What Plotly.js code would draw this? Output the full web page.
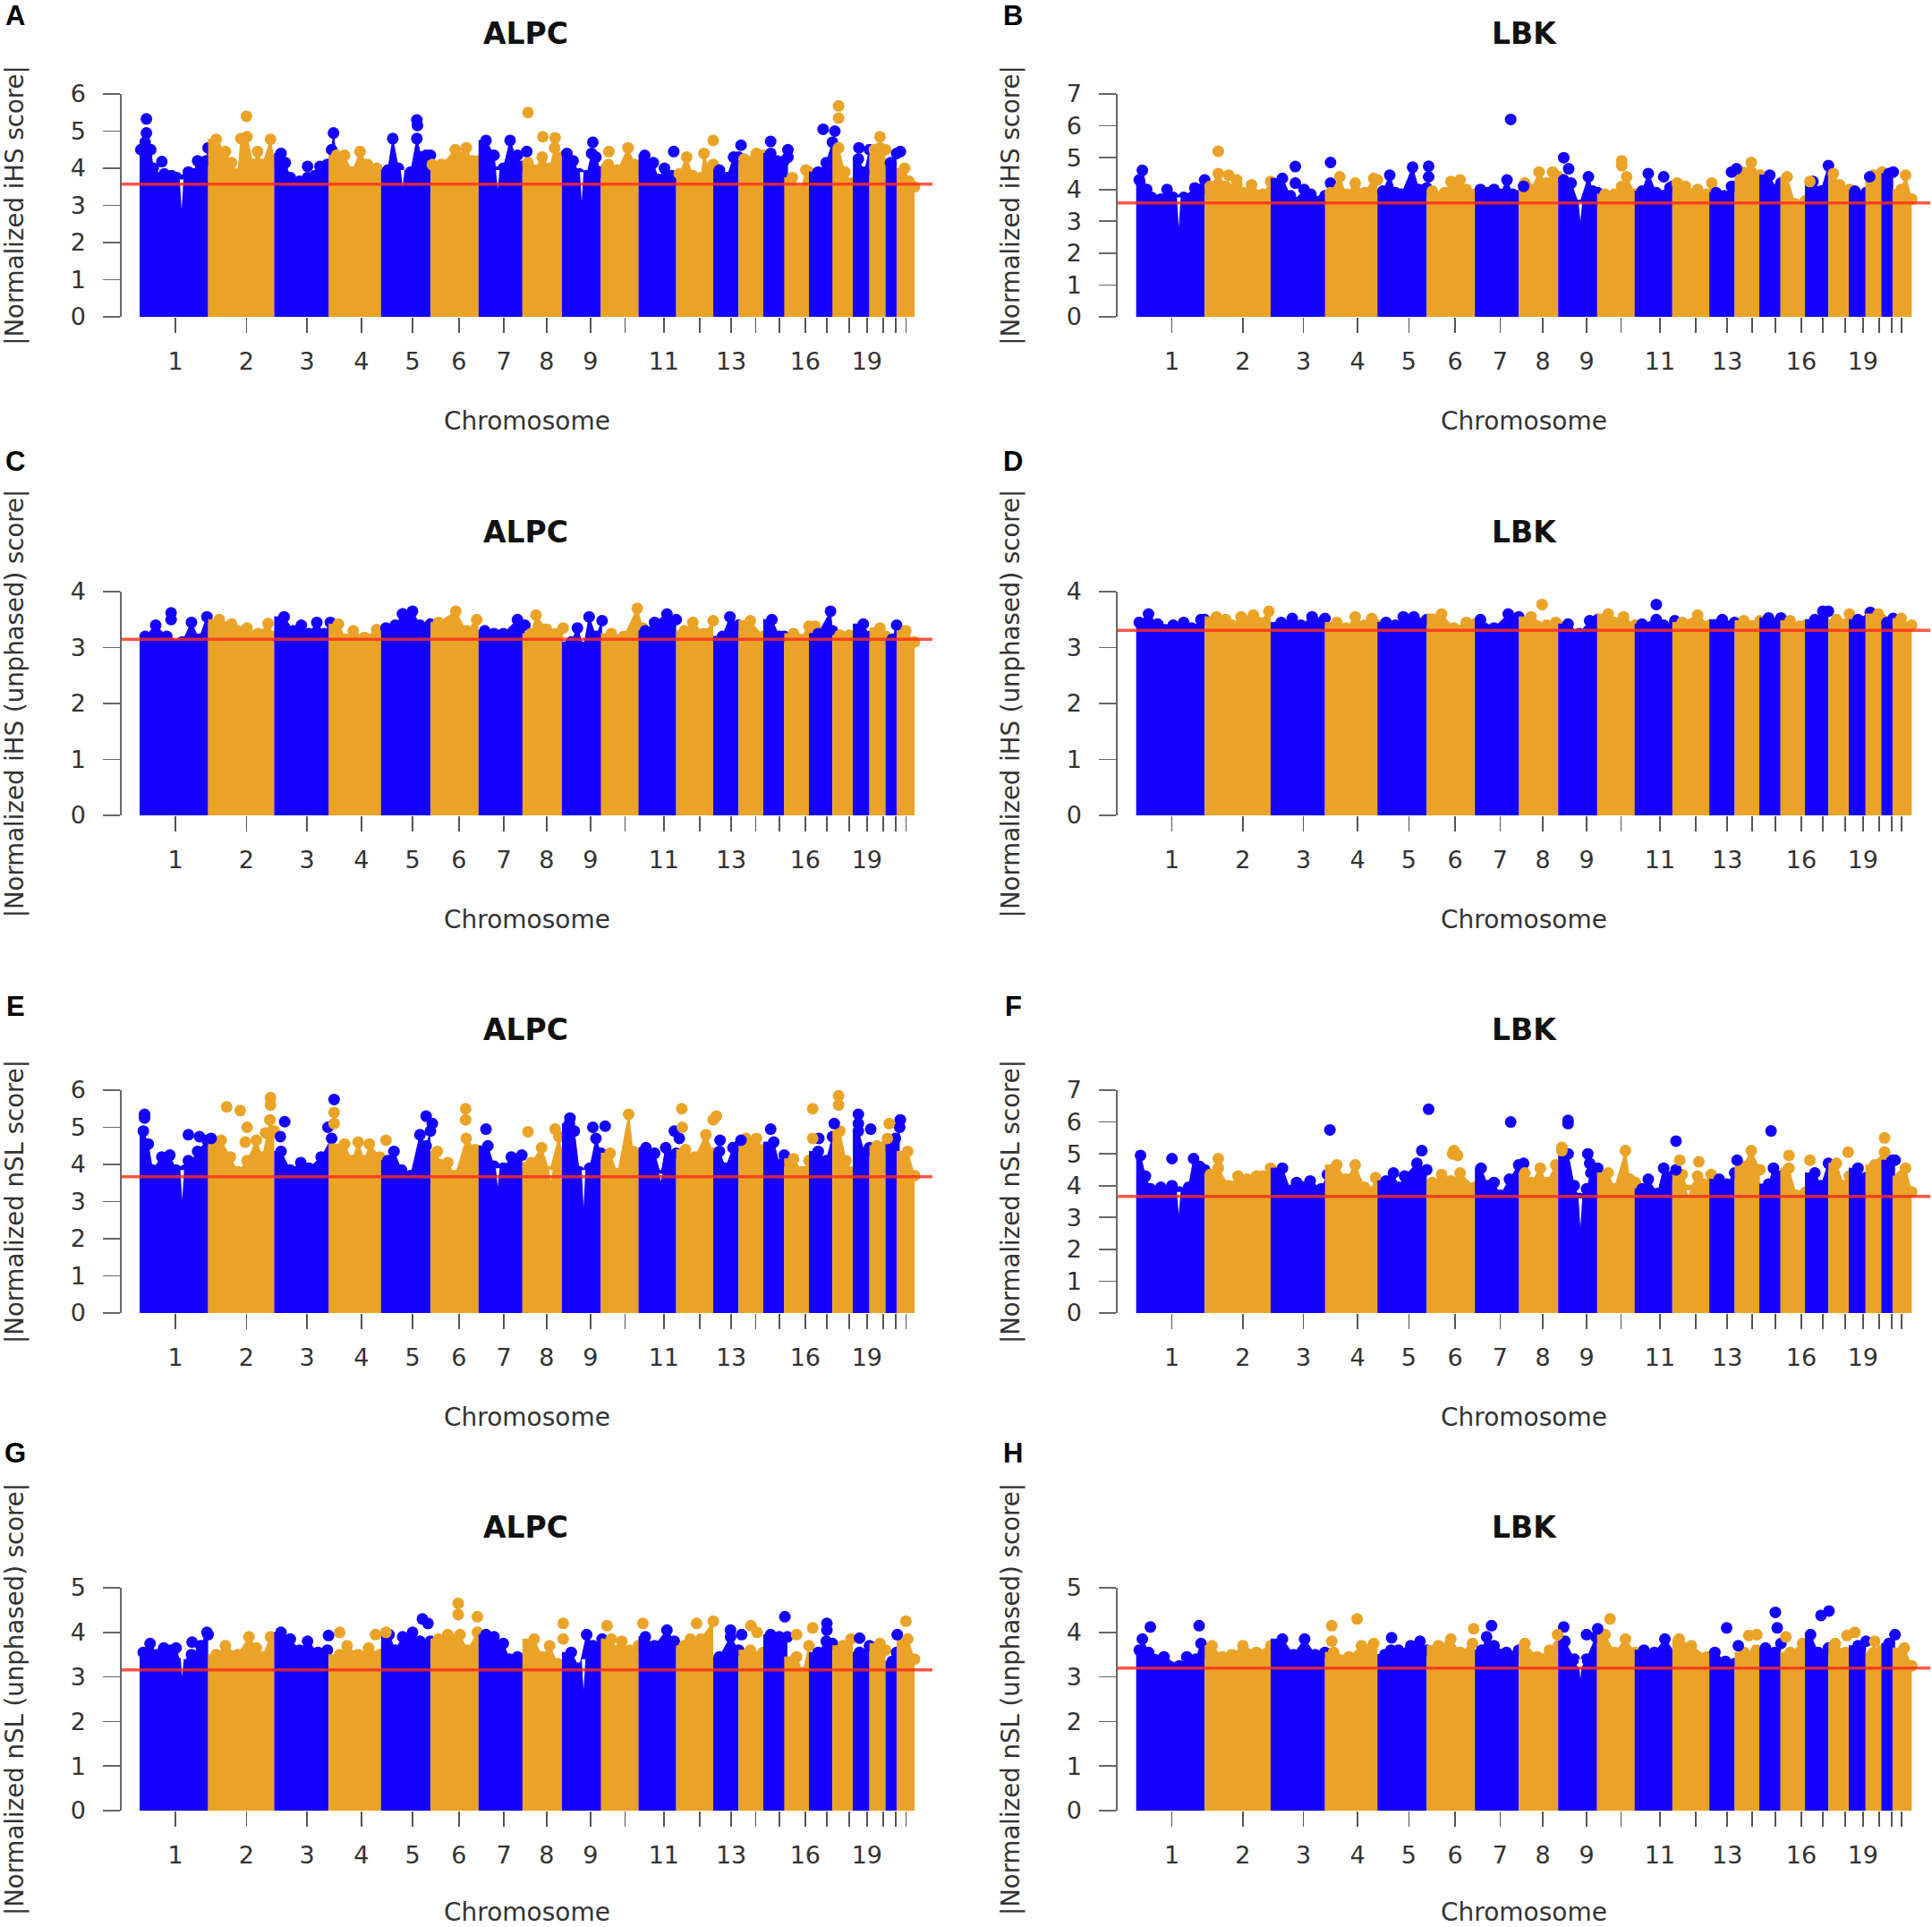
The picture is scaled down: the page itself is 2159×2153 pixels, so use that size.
<!DOCTYPE html>
<html>
<head>
<meta charset="utf-8">
<script src="https://cdn.plot.ly/plotly-3.0.1.min.js"></script>
<style>html,body{margin:0;padding:0;background:#fff}#chart{width:2159px;height:2153px}</style>
</head>
<body>
<div id="chart"></div>
<script>
// Genome position of the chromosome edges and centres
const chromEdges = [0,111,218,306,391,471,549,620,684,747,808,869,929,970,1010,1044,1084,1122,1155,1182,1208,1226,1255];
const chromTicks = [58,173,271,359,442,517,590,659,730,786,849,907,958,998,1036,1078,1113,1149,1178,1204,1225,1241];
const chromLabels = ['1','2','3','4','5','6','7','8','9','','11','','13','','','16','','','19','','',''];

// Ridge of each chromosome as position,score pairs; spots stand above the ridge; dips are position,bottom,top
const ridgeA = [
 [2,4.5,9,4.7,11,4.95,18,4.5,22,4.0,28,3.75,40,3.85,52,3.8,60,3.75,79,3.9,87,3.85,94,4.2,100,3.95,108,4.2,111,4.55],
 [124,4.78,139,4.45,149,4.15,159,3.85,164,4.8,174,4.85,184,4.1,191,4.45,199,4.1,212,4.78,218,4.2],
 [229,4.4,236,4.15,244,3.75,259,3.65,272,3.75,284,3.8,292,4.05,304,4.1,311,4.5,314,4.95,318,4.3],
 [319,4.35,332,4.35,344,3.9,357,4.45,369,4.1,384,4.0],
 [402,3.95,410,4.8,419,4.0,429,3.8,439,3.9,449,4.8,456,4.3,464,4.35,471,4.35],
 [474,4.1,489,4.1,511,4.5,519,4.3,529,4.55,539,4.2,549,4.2],
 [561,4.75,574,4.35,577,3.9,589,4.0,600,4.75,609,4.3,620,4.05],
 [629,4.15,639,3.95,652,4.3,664,4.0,672,4.55,684,4.3],
 [692,4.4,702,4.2,712,3.85,724,3.8,732,4.4,739,4.3,747,3.9],
 [759,4.1,774,3.95,791,4.55,802,4.1,808,3.9],
 [818,4.35,832,4.15,840,3.7,850,4.0,862,3.8,869,3.7],
 [874,3.85,886,4.3,896,3.8,909,3.75,914,4.4,924,3.85,929,4.1],
 [939,3.95,951,3.75,962,4.3,970,4.3],
 [979,4.25,999,4.4,1010,4.35],
 [1022,4.4,1032,4.2,1044,4.2,1050,4.3],
 [1057,3.75,1071,3.4,1079,3.95,1084,3.9],
 [1099,3.9,1112,4.15,1122,4.7,1126,5.0],
 [1132,4.55,1142,3.9,1155,3.6],
 [1164,4.25,1174,3.9,1182,4.5],
 [1190,4.5,1199,4.55,1208,4.5],
 [1216,4.15,1226,4.4],
 [1239,4.0,1246,3.65,1255,3.5]
];
const blueSpotsA = [11,5.33,36,4.18,272,4.05,449,5.3,450,5.15,627,4.45,612,4.35,734,4.7,865,4.45,974,4.62,1022,4.72,1050,4.5,1107,5.05,1165,4.55,1232,4.45];
const orangeSpotsA = [173,5.4,629,5.5,653,4.85,673,4.82,760,4.45,929,4.75,1132,5.35,1132,5.68,1199,4.85];
const dipsA = [68,2.9,3.7,426,3.5,3.95,580,3.45,3.95,716,3.1,3.9];

const ridgeB = [
 [5,4.3,10,4.6,17,4.0,25,3.75,40,3.7,50,4.0,60,3.75,77,3.75,95,4.05,105,4.0,111,4.3],
 [120,4.1,133,4.5,145,4.1,163,4.15,175,3.9,187,4.15,205,3.85,218,4.25],
 [237,4.35,250,3.8,270,3.7,285,3.7,300,3.65,306,3.8,315,4.2],
 [315,3.9,330,4.4,340,3.85,355,4.2,370,3.9,385,4.35,391,4.3],
 [400,3.95,411,4.45,420,3.9,430,3.85,448,4.7,458,4.0,471,4.05],
 [480,3.95,500,3.9,510,4.25,525,4.3,535,4.0,549,3.85],
 [558,4.0,570,3.9,580,4.0,590,3.85,601,4.3,610,3.85,620,3.8],
 [630,4.2,640,4.0,653,4.55,665,4.2,675,4.55,684,4.4],
 [693,4.3,705,4.2,718,3.5,733,4.4,740,3.95,748,3.9],
 [760,3.85,775,3.85,787,4.1,795,4.4,809,3.85],
 [820,3.95,830,4.5,843,3.9,865,4.05,869,4.1],
 [877,4.2,890,4.1,900,3.85,910,4.0,925,3.85,933,4.2],
 [940,3.9,953,3.8,965,4.1,970,4.1],
 [983,4.55,997,4.85,1011,4.45],
 [1027,4.45,1037,4.0,1045,4.2],
 [1055,4.4,1068,3.55,1085,3.65],
 [1097,4.25,1110,3.95,1122,4.75],
 [1130,4.5,1140,4.15,1156,4.0],
 [1165,3.95,1183,3.9],
 [1195,4.45,1209,4.55],
 [1220,4.5,1227,4.55],
 [1240,4.0,1247,4.45,1257,3.7]
];
const blueSpotsB = [258,4.72,258,4.2,272,4.0,283,3.85,315,4.85,474,4.73,474,4.4,607,6.2,628,4.1,693,5.0,701,4.65,855,4.4,965,4.55,973,4.65,1189,4.4];
const orangeSpotsB = [133,5.2,150,4.45,163,4.3,787,4.9,787,4.75,1092,4.25];
const dipsB = [69,2.8,3.75,720,3.0,3.6];

const ridgeC = [
 [9,3.2,26,3.4,44,3.2,69,3.1,84,3.45,96,3.15,109,3.55],
 [129,3.5,149,3.42,174,3.35,192,3.25,208,3.43,218,3.2],
 [234,3.55,249,3.3,262,3.4,274,3.25,287,3.45,299,3.25,309,3.45],
 [322,3.42,334,3.15,346,3.3,364,3.18,384,3.32],
 [399,3.35,414,3.4,426,3.6,442,3.65,454,3.4,471,3.42],
 [484,3.45,512,3.65,529,3.3,546,3.5],
 [559,3.3,574,3.25,589,3.25,612,3.5,624,3.4],
 [634,3.25,642,3.58,659,3.33,674,3.25,686,3.35],
 [699,3.1,709,3.35,719,3.0,728,3.55,739,3.2,749,3.48],
 [764,3.25,784,3.2,806,3.7,815,3.35],
 [819,3.3,834,3.45,854,3.6,869,3.5],
 [882,3.3,896,3.45,914,3.25,929,3.48],
 [944,3.2,956,3.55,970,3.4],
 [989,3.48,1010,3.2],
 [1024,3.5,1036,3.2,1044,3.2],
 [1059,3.25,1069,3.15,1084,3.38,1094,3.38],
 [1099,3.25,1119,3.65,1122,3.3],
 [1134,3.22,1149,3.22,1155,3.15],
 [1172,3.42,1182,3.2],
 [1199,3.35,1208,3.2],
 [1219,3.15,1226,3.4],
 [1241,3.3,1255,3.1]
];
const blueSpotsC = [51,3.62,51,3.5,426,3.6];
const orangeSpotsC = [];
const dipsC = [];

const ridgeD = [
 [5,3.45,20,3.6,35,3.42,60,3.4,70,3.35,77,3.45,90,3.35,105,3.5,111,3.5],
 [130,3.55,145,3.5,155,3.4,170,3.55,190,3.58,200,3.45,215,3.65],
 [235,3.45,253,3.52,267,3.4,285,3.55,306,3.52],
 [325,3.45,340,3.35,355,3.55,370,3.4,382,3.52,391,3.4],
 [405,3.45,420,3.4,433,3.55,450,3.55,471,3.5],
 [495,3.6,515,3.35,535,3.45,549,3.42],
 [558,3.5,580,3.35,603,3.6,620,3.55,628,3.35],
 [640,3.55,665,3.4,680,3.45,684,3.4],
 [700,3.42,718,3.25,735,3.48,748,3.5],
 [765,3.6,775,3.45,790,3.55,809,3.4],
 [820,3.42,843,3.5,855,3.4,873,3.48],
 [885,3.45,910,3.58,930,3.4],
 [950,3.5,970,3.45],
 [985,3.48,1011,3.48],
 [1025,3.53,1045,3.53],
 [1060,3.48,1075,3.38,1085,3.4],
 [1100,3.5,1113,3.65,1122,3.65],
 [1135,3.5,1150,3.42,1156,3.6],
 [1170,3.5,1190,3.63],
 [1203,3.6,1209,3.5],
 [1217,3.45,1227,3.52],
 [1240,3.52,1257,3.4]
];
const blueSpotsD = [843,3.77];
const orangeSpotsD = [658,3.77];
const dipsD = [];

const ridgeE = [
 [6,4.9,14,4.55,21,3.85,36,4.2,49,4.25,59,3.85,74,3.85,94,4.35,109,4.65],
 [132,4.65,147,4.2,159,3.8,174,4.1,189,4.65,199,4.2,211,5.2,218,4.9],
 [229,4.35,244,3.85,261,4.05,274,3.9,294,4.2,311,4.7],
 [332,4.55,344,4.1,354,4.6,364,4.1,372,4.55,389,4.2],
 [402,4.1,412,4.35,424,3.85,439,3.7,454,4.8,464,4.5,471,4.9],
 [482,4.35,486,4.0,499,4.05,511,3.7,529,4.7,544,4.4],
 [564,4.5,574,3.95,589,3.9,602,4.2,619,4.25],
 [634,4.05,651,4.45,664,3.8,679,4.75,684,4.3],
 [696,5.1,704,4.9,712,3.8,729,3.9,739,4.7,747,4.3],
 [762,4.3,774,3.75,792,5.35,799,4.35,808,4.25],
 [820,4.45,834,4.3,844,3.7,852,4.45,869,4.3],
 [884,4.4,899,4.2,917,4.8,929,4.3],
 [939,4.35,949,3.9,961,4.45,970,4.5],
 [982,4.7,999,4.7,1010,4.4],
 [1027,4.6,1036,4.0,1044,4.25],
 [1059,4.15,1074,3.8,1084,4.1],
 [1099,4.35,1112,4.1,1122,4.75],
 [1134,4.9,1144,4.1,1155,3.8],
 [1164,4.9,1174,4.3,1182,4.45],
 [1194,4.5,1208,4.5],
 [1224,4.7,1231,5.0],
 [1244,4.35,1255,3.7]
];
const blueSpotsE = [8,5.25,8,5.35,79,4.8,79,4.1,97,4.75,116,4.7,235,5.15,228,4.75,305,5.0,315,5.75,464,5.3,474,5.1,561,4.95,697,5.25,734,5.0,754,5.03,866,4.9,874,4.7,940,4.65,974,4.65,1022,4.95,1100,4.7,1125,5.1,1164,5.35,1164,5.1,1184,4.95,1232,5.2];
const orangeSpotsE = [141,5.55,163,5.45,174,5.0,171,4.6,212,5.8,212,5.6,204,4.85,315,5.4,315,5.1,399,4.65,528,5.5,528,5.2,629,4.88,673,4.95,878,5.5,879,5.0,929,5.2,934,5.3,1090,5.5,1090,4.7,1132,5.85,1132,5.6,1214,5.1,1211,4.7];
const dipsE = [69,3.05,3.85,580,3.4,3.9,666,3.55,3.85,719,2.85,3.85,844,3.55,3.75];

const ridgeF = [
 [7,4.95,15,4.3,23,3.9,40,3.95,58,4.0,70,3.8,85,3.95,93,4.85,103,4.6,111,4.5],
 [120,4.35,133,4.55,150,4.0,165,4.3,180,4.2,195,4.3,205,4.3,218,4.55],
 [237,4.55,250,3.85,260,4.1,282,4.15,300,3.9,310,4.35],
 [325,4.65,340,4.2,355,4.65,370,3.95,380,3.8,388,4.25],
 [405,4.15,417,4.4,425,3.95,435,4.3,455,4.7,471,4.5],
 [480,4.1,495,4.35,510,4.15,525,4.4,549,3.95],
 [559,4.55,570,4.0,580,4.1,590,3.7,605,4.2,620,4.65,628,4.7],
 [630,4.4,640,4.1,655,4.55,665,4.1,680,4.65],
 [700,5.0,710,4.0,718,3.6,730,3.9,737,4.4,748,4.55,753,4.2],
 [765,4.4,775,3.9,793,5.1,800,4.2,809,4.1],
 [820,3.9,830,4.2,845,3.75,855,4.55,869,4.3],
 [885,4.35,895,3.85,910,4.3,920,4.05,932,4.35],
 [945,4.2,957,4.05,970,4.4],
 [983,4.6,997,5.1,1011,4.5],
 [1025,4.05,1033,4.55,1045,4.3],
 [1058,4.55,1070,3.7,1085,3.8],
 [1100,4.4,1110,4.0,1122,4.7],
 [1135,4.7,1147,4.0,1156,4.3],
 [1170,4.55,1183,4.25],
 [1197,4.65,1209,4.75],
 [1225,4.8,1230,4.8],
 [1240,4.3,1247,4.55,1257,3.8]
];
const blueSpotsF = [58,4.85,314,5.75,463,5.1,474,6.4,607,6.0,700,6.05,700,5.95,732,5.0,735,4.7,875,5.4,875,4.5,974,4.8,1029,5.72];
const orangeSpotsF = [133,4.85,515,5.1,521,4.95,513,5.0,690,5.2,690,5.1,881,4.8,912,4.75,1058,4.95,1092,4.8,1154,5.05,1213,5.5,1213,5.05];
const dipsF = [69,3.1,3.8,720,2.7,3.6,895,3.7,3.85];

const ridgeG = [
 [6,3.55,17,3.75,29,3.5,39,3.65,49,3.6,59,3.65,66,3.3,84,3.5,99,3.7,109,4.0],
 [124,3.5,139,3.7,159,3.5,177,3.9,189,3.65,199,3.45,212,3.9],
 [229,4.0,244,3.85,259,3.6,272,3.8,289,3.55,304,3.6],
 [324,3.5,336,3.7,354,3.5,371,3.65,389,3.5],
 [404,3.95,414,3.6,426,3.9,442,4.0,454,3.8,471,3.8],
 [484,3.85,499,3.95,519,3.95,531,3.6,547,4.0],
 [561,3.95,574,3.9,589,3.75,599,3.4,612,3.45,622,3.3],
 [639,3.85,652,3.45,664,3.7,677,3.3],
 [699,3.55,712,3.2,724,3.95,734,3.7,749,3.85],
 [764,3.85,774,3.6,781,3.8,794,3.6,808,3.7],
 [819,3.9,834,3.7,854,4.05,866,3.8],
 [882,3.7,892,3.85,909,3.85,929,4.25],
 [939,3.45,957,3.9,970,3.6],
 [989,3.6,1010,3.55],
 [1022,3.95,1036,3.9,1049,3.9],
 [1064,3.45,1074,3.1,1084,3.7],
 [1099,3.55,1112,3.8,1122,3.75],
 [1139,3.7,1152,3.85],
 [1166,3.55,1182,3.7],
 [1199,3.75,1208,3.6],
 [1219,3.35,1226,3.55],
 [1244,3.85,1255,3.4]
];
const blueSpotsG = [85,3.78,111,3.95,306,3.93,458,4.3,467,4.2,957,4.05,975,3.95,1045,4.35,1113,4.2,1113,4.05,1166,3.87,1227,3.95];
const orangeSpotsG = [324,4.0,382,3.95,399,4.0,516,4.65,516,4.4,547,4.35,686,4.2,686,3.85,757,4.15,815,4.2,902,4.2,990,4.15,1000,4.0,1064,3.95,1090,4.1,1241,4.25];
const dipsG = [69,3.0,3.5,719,2.7,3.4];

const ridgeH = [
 [5,3.6,10,3.85,20,3.55,45,3.45,70,3.25,82,3.45,97,3.4,105,3.75,111,3.55],
 [123,3.7,140,3.45,155,3.5,173,3.7,195,3.55,218,3.7],
 [237,3.85,255,3.5,273,3.85,290,3.5,306,3.55],
 [320,3.55,345,3.45,365,3.7,385,3.75],
 [403,3.5,413,3.6,425,3.6,445,3.7,460,3.8,471,3.6],
 [490,3.7,510,3.85,525,3.55,545,3.75],
 [560,3.6,568,3.9,580,3.7,600,3.55,620,3.6],
 [630,3.75,650,3.45,670,3.6,684,3.7],
 [695,3.8,710,3.4,718,3.1,730,3.4,745,3.9],
 [760,3.95,775,3.55,793,3.85,809,3.55],
 [823,3.6,840,3.55,857,3.85,875,3.5],
 [880,3.85,900,3.7,925,3.45],
 [938,3.55,955,3.35,970,3.3],
 [985,3.55,1005,3.6,1011,3.5],
 [1020,3.65,1035,3.55,1045,3.75],
 [1060,3.55,1080,3.75],
 [1093,3.95,1105,3.55,1122,3.65],
 [1133,3.75,1150,3.55],
 [1170,3.7,1183,3.8],
 [1195,3.55,1209,3.6],
 [1220,3.75,1230,3.95],
 [1245,3.65,1257,3.25]
];
const blueSpotsH = [23,4.12,102,4.15,414,3.88,576,4.15,693,4.12,730,3.95,748,4.08,957,4.1,976,3.7,1036,4.45,1039,4.1,1110,4.38,1123,4.48];
const orangeSpotsH = [317,4.15,317,3.8,358,4.3,547,4.08,683,3.95,768,4.3,993,3.93,1006,3.95,1053,3.9,1152,3.93,1165,4.0,1197,3.8];
const dipsH = [720,2.95,3.4];

const panelLetters = ['A','B','C','D','E','F','G','H'];
const panelTitles = ['ALPC','LBK','ALPC','LBK','ALPC','LBK','ALPC','LBK'];
const yTitles = ['|Normalized iHS score|','|Normalized iHS score|','|Normalized iHS (unphased) score|','|Normalized iHS (unphased) score|','|Normalized nSL score|','|Normalized nSL score|','|Normalized nSL (unphased) score|','|Normalized nSL (unphased) score|'];
const yMax = [6,7,4,4,6,7,5,5];
const thresholds = [3.57,3.58,3.15,3.31,3.67,3.66,3.16,3.2];
const ridges = [ridgeA,ridgeB,ridgeC,ridgeD,ridgeE,ridgeF,ridgeG,ridgeH];
const blueSpots = [blueSpotsA,blueSpotsB,blueSpotsC,blueSpotsD,blueSpotsE,blueSpotsF,blueSpotsG,blueSpotsH];
const orangeSpots = [orangeSpotsA,orangeSpotsB,orangeSpotsC,orangeSpotsD,orangeSpotsE,orangeSpotsF,orangeSpotsG,orangeSpotsH];
const dips = [dipsA,dipsB,dipsC,dipsD,dipsE,dipsF,dipsG,dipsH];

// Page geometry in pixels
const W = 2159, H = 2153;
const BLUE = '#1400ff', ORANGE = '#eba327';
const columns = [{left:136,right:1042,range:[-29,1284],letterX:17,titleX:587},{left:1249,right:2157,range:[-30,1287],letterX:1132,titleX:1703}];
const rows = [
 {bottom:354,top:105,titleY:38,letterY:18},
 {bottom:911,top:661,titleY:594,letterY:515},
 {bottom:1467,top:1218,titleY:1150,letterY:1124},
 {bottom:2023,top:1774,titleY:1706,letterY:1623}
];
const MARKER = 13;

const evens = a => a.filter((_, i) => i % 2 === 0);
const odds = a => a.filter((_, i) => i % 2 === 1);

const traces = [];
const layout = {
  width: W, height: H, margin: {l:0,r:0,t:0,b:0}, showlegend: false,
  paper_bgcolor: '#fff', plot_bgcolor: 'rgba(0,0,0,0)',
  font: {family: '"DejaVu Sans", sans-serif', size: 27, color: '#333'},
  annotations: []
};

panelLetters.forEach((letter, p) => {
  const col = columns[p % 2], row = rows[Math.floor(p / 2)];
  const n = p === 0 ? '' : String(p + 1);
  const xa = 'x' + n, ya = 'y' + n;
  ridges[p].forEach((ridge, c) => {
    const xs = evens(ridge), ys = odds(ridge);
    const lo = chromEdges[c], hi = chromEdges[c + 1];
    const x = [lo].concat(xs), y = [ys[0]].concat(ys), size = [0].concat(xs.map(() => MARKER));
    if (xs[xs.length - 1] < hi) { x.push(hi); y.push(ys[ys.length - 1]); size.push(0); }
    const color = c % 2 === 0 ? BLUE : ORANGE;
    traces.push({type:'scatter', mode:'lines+markers', x, y, xaxis:xa, yaxis:ya, fill:'tozeroy', fillcolor:color,
      line:{color, width:1}, marker:{color, size, opacity:1, line:{width:0}}, cliponaxis:false, hoverinfo:'skip', name:'chr' + (c + 1)});
  });
  [[blueSpots[p], BLUE], [orangeSpots[p], ORANGE]].forEach(([spots, color]) => {
    if (!spots.length) return;
    traces.push({type:'scatter', mode:'markers', x:evens(spots), y:odds(spots), xaxis:xa, yaxis:ya,
      marker:{color, size:MARKER, opacity:1, line:{width:0}}, cliponaxis:false, hoverinfo:'skip'});
  });
  for (let i = 0; i < dips[p].length; i += 3) {
    const dx = dips[p][i], bottom = dips[p][i + 1], top = dips[p][i + 2];
    traces.push({type:'scatter', mode:'lines', x:[dx - 3, dx, dx + 3, dx - 3], y:[top, bottom, top, top], xaxis:xa, yaxis:ya,
      fill:'toself', fillcolor:'#fff', line:{color:'#fff', width:0}, hoverinfo:'skip'});
  }
  traces.push({type:'scatter', mode:'lines', x:col.range, y:[thresholds[p], thresholds[p]], xaxis:xa, yaxis:ya,
    line:{color:'rgba(255,45,25,0.8)', width:3.5}, hoverinfo:'skip', name:'threshold'});

  layout['xaxis' + n] = {
    domain:[col.left / W, col.right / W], range:col.range, anchor:ya, showgrid:false, zeroline:false, showline:false,
    tickmode:'array', tickvals:chromTicks, ticktext:chromLabels, ticks:'outside', ticklen:17, tickwidth:1.6, tickcolor:'#555',
    tickangle:0, tickfont:{size:27, color:'#333'}, ticklabelstandoff:9,
    title:{text:'Chromosome', font:{size:28, color:'#333'}, standoff:41}
  };
  const ticks = [];
  for (let t = 0; t <= yMax[p]; t++) ticks.push(t);
  layout['yaxis' + n] = {
    domain:[1 - row.bottom / H, 1 - row.top / H], range:[0, yMax[p]], anchor:xa, showgrid:false, zeroline:false,
    showline:true, linecolor:'#666', linewidth:1.6,
    tickmode:'array', tickvals:ticks, ticktext:ticks.map(String), ticks:'outside', ticklen:19, tickwidth:1.6, tickcolor:'#666',
    tickangle:0, tickfont:{size:27, color:'#333'}, ticklabelstandoff:14,
    title:{text:yTitles[p], font:{size:27.6, color:'#333'}, standoff:44}
  };
  layout.annotations.push({xref:'paper', yref:'paper', x:col.titleX / W, y:1 - row.titleY / H,
    text:'<b>' + panelTitles[p] + '</b>', showarrow:false, xanchor:'center', yanchor:'middle',
    font:{family:'"DejaVu Sans", sans-serif', size:33, color:'#111'}});
  layout.annotations.push({xref:'paper', yref:'paper', x:col.letterX / W, y:1 - row.letterY / H,
    text:'<b>' + letter + '</b>', showarrow:false, xanchor:'center', yanchor:'middle',
    font:{family:'"Liberation Sans", Arial, sans-serif', size:31, color:'#000'}});
});

Plotly.newPlot('chart', traces, layout, {staticPlot:true, displayModeBar:false});
</script>
</body>
</html>
